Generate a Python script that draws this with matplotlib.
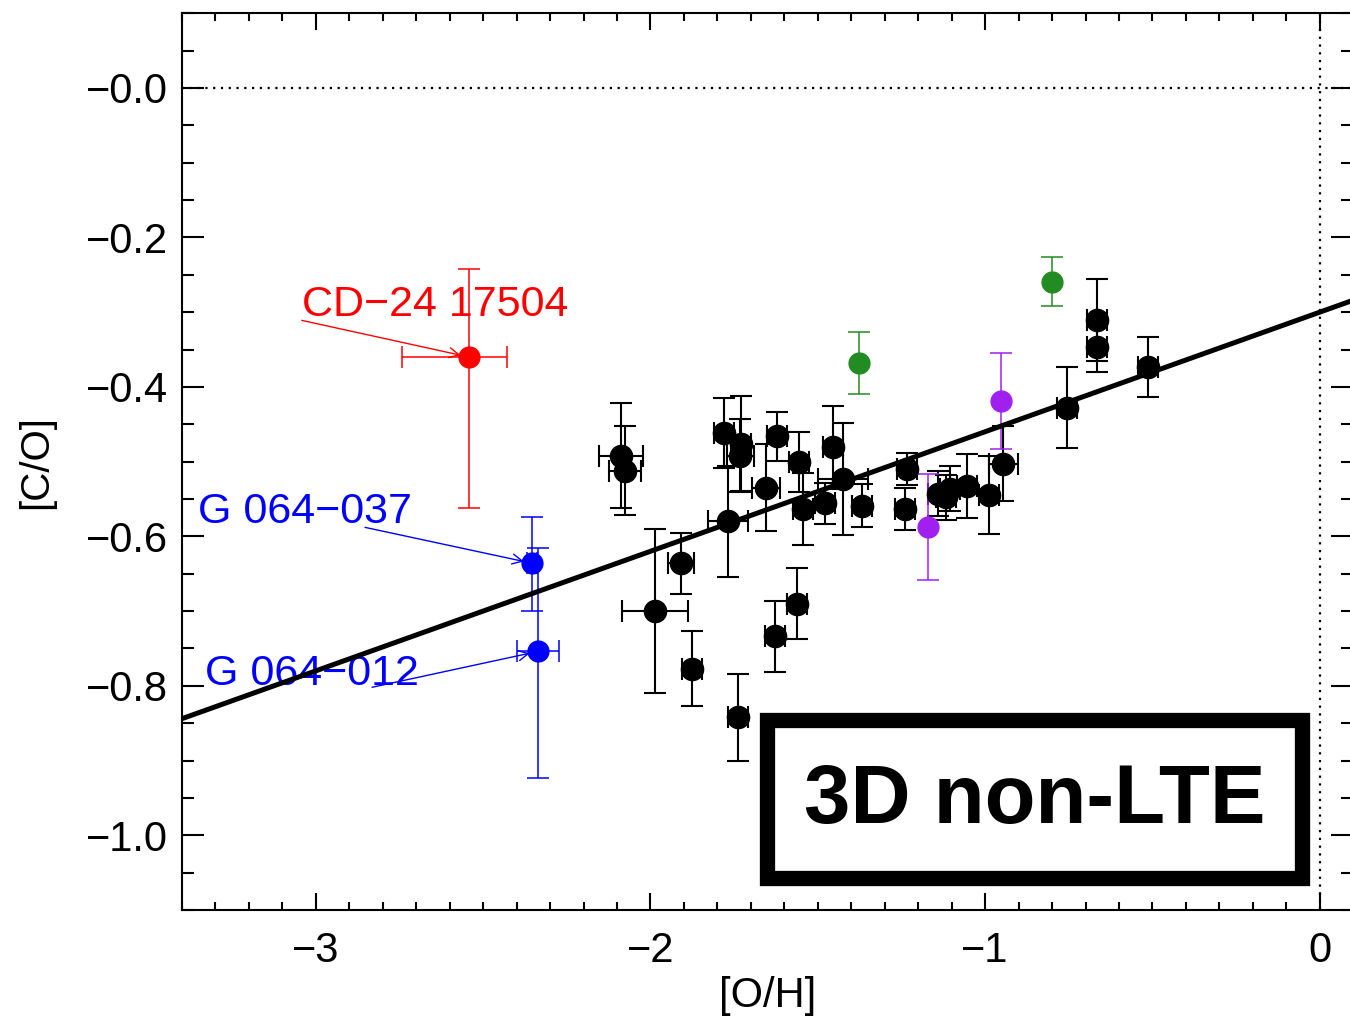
import matplotlib
matplotlib.use("Agg")
import matplotlib.pyplot as plt
from matplotlib.patches import Rectangle
from matplotlib.ticker import MultipleLocator

plt.rcParams["font.family"] = ["Liberation Sans", "DejaVu Sans"]

# black sample stars: [O/H], [C/O] and errors
oh = [-2.088, -2.076, -1.781, -1.729, -1.732, -1.622, -1.655, -1.768, -1.556, -1.545,
      -1.454, -1.425, -1.478, -1.368, -1.233, -1.239, -1.141, -1.117, -1.105, -1.053,
      -0.988, -0.946, -0.755, -0.666, -0.666, -0.513, -1.987, -1.909, -1.876, -1.738,
      -1.628, -1.562]
co = [-0.492, -0.512, -0.462, -0.476, -0.492, -0.466, -0.535, -0.580, -0.501, -0.563,
      -0.481, -0.523, -0.556, -0.559, -0.510, -0.563, -0.543, -0.548, -0.536, -0.533,
      -0.545, -0.503, -0.428, -0.310, -0.346, -0.373, -0.700, -0.636, -0.777, -0.842,
      -0.734, -0.690]
oh_err = [0.067, 0.048, 0.03, 0.03, 0.040, 0.03, 0.042, 0.060, 0.03, 0.03,
          0.03, 0.075, 0.03, 0.03, 0.03, 0.03, 0.03, 0.03, 0.03, 0.03,
          0.03, 0.043, 0.03, 0.03, 0.03, 0.03, 0.098, 0.040, 0.03, 0.03,
          0.03, 0.03]
co_err = [0.070, 0.060, 0.047, 0.064, 0.049, 0.033, 0.058, 0.074, 0.040, 0.048,
          0.055, 0.075, 0.028, 0.029, 0.021, 0.028, 0.030, 0.030, 0.030, 0.043,
          0.052, 0.050, 0.054, 0.055, 0.034, 0.040, 0.110, 0.041, 0.050, 0.058,
          0.047, 0.048]

green_oh = [-1.377, -0.800]
green_co = [-0.368, -0.259]
green_co_err = [0.041, 0.033]

purple_oh = [-0.952, -1.171]
purple_co = [-0.419, -0.588]
purple_co_err = [0.064, 0.071]

# labelled stars
red_name = "CD\u221224 17504"
red_oh, red_co = -2.543, -0.360
red_oh_err_lo, red_oh_err_hi = 0.200, 0.114
red_co_err_lo, red_co_err_hi = 0.202, 0.118

blue_names = ["G 064\u2212037", "G 064\u2212012"]
blue_oh = [-2.354, -2.336]
blue_co = [-0.636, -0.754]
blue_oh_err = [0.015, 0.064]
blue_co_err_lo = [0.064, 0.169]
blue_co_err_hi = [0.062, 0.139]

# linear fit
fit_slope, fit_icpt = 0.160, -0.300
fit_x = [-3.4, 0.1]

ytick_vals = [0.0, -0.2, -0.4, -0.6, -0.8, -1.0]
ytick_labels = ["\u22120.0", "\u22120.2", "\u22120.4", "\u22120.6", "\u22120.8", "\u22121.0"]
xtick_vals = [-3, -2, -1, 0]
xtick_labels = ["\u22123", "\u22122", "\u22121", "0"]

fig = plt.figure(figsize=(13.5, 10.19), dpi=100)
ax = fig.add_axes([0.1348, 0.107, 0.8676, 0.880])

ax.axhline(0, color="k", ls=(0, (1, 2.5)), lw=1.6, zorder=1)
ax.axvline(0, color="k", ls=(0, (1, 2.5)), lw=1.6, zorder=1)

ax.errorbar(oh, co, xerr=oh_err, yerr=co_err, fmt="o", ms=16, color="k",
            ecolor="k", elinewidth=1.5, capsize=8, capthick=1.5, zorder=3)
ax.errorbar(green_oh, green_co, yerr=green_co_err, fmt="o", ms=15, color="#228B22",
            ecolor="#228B22", elinewidth=1.1, capsize=8, capthick=1.1, zorder=3)
ax.errorbar(purple_oh, purple_co, yerr=purple_co_err, fmt="o", ms=15, color="#A020F0",
            ecolor="#A020F0", elinewidth=1.1, capsize=8, capthick=1.1, zorder=3)
ax.errorbar([red_oh], [red_co], xerr=[[red_oh_err_lo], [red_oh_err_hi]],
            yerr=[[red_co_err_lo], [red_co_err_hi]], fmt="o", ms=15, color="red",
            ecolor="red", elinewidth=1.1, capsize=8, capthick=1.1, zorder=3)
ax.errorbar(blue_oh, blue_co, xerr=blue_oh_err, yerr=[blue_co_err_lo, blue_co_err_hi],
            fmt="o", ms=15, color="blue", ecolor="blue", elinewidth=1.1, capsize=8,
            capthick=1.1, zorder=3)

fy = [fit_icpt + fit_slope * x for x in fit_x]
ax.plot(fit_x, fy, color="k", lw=3.6, zorder=4)

# labels with arrows
ax.text(-3.042, -0.291, red_name, color="red", fontsize=31, ha="left", va="center")
ax.annotate("", xy=(red_oh, red_co), xytext=(-3.042, -0.311),
            arrowprops=dict(arrowstyle="->", color="red", lw=1, shrinkA=0, shrinkB=6,
                            mutation_scale=18))
label_pos = [(-3.353, -0.568), (-3.331, -0.784)]
arrow_start = [(-2.853, -0.588), (-2.832, -0.802)]
for name, (tx, ty), (sx, sy), x, y in zip(blue_names, label_pos, arrow_start, blue_oh, blue_co):
    ax.text(tx, ty, name, color="blue", fontsize=31, ha="left", va="center")
    ax.annotate("", xy=(x, y), xytext=(sx, sy),
                arrowprops=dict(arrowstyle="->", color="blue", lw=1, shrinkA=0,
                                shrinkB=6, mutation_scale=18))

# 3D non-LTE box
ax.add_patch(Rectangle((-1.653, -1.057), 1.601, 0.211, fill=False, lw=11,
                       edgecolor="k", joinstyle="miter", zorder=5))
ax.text(-0.853, -0.954, "3D non-LTE", fontsize=60, fontweight="bold",
        ha="center", va="center", zorder=6)

ax.set_xlim(-3.4, 0.1)
ax.set_ylim(-1.1, 0.1)
ax.set_xticks(xtick_vals)
ax.set_xticklabels(xtick_labels)
ax.set_yticks(ytick_vals)
ax.set_yticklabels(ytick_labels)
ax.xaxis.set_minor_locator(MultipleLocator(0.1))
ax.yaxis.set_minor_locator(MultipleLocator(0.05))
ax.tick_params(which="both", direction="in", top=True, right=True, width=1.5)
ax.tick_params(axis="x", which="major", length=12, labelsize=30, pad=15)
ax.tick_params(axis="x", which="minor", length=6)
ax.tick_params(axis="y", which="major", length=16, labelsize=30, pad=10)
ax.tick_params(axis="y", which="minor", length=8.5)
for s in ax.spines.values():
    s.set_linewidth(1.5)

ax.set_xlabel("[O/H]", fontsize=30, labelpad=4)
ax.set_ylabel("[C/O]", fontsize=29, labelpad=22)

fig.savefig("out.png", dpi=100)
